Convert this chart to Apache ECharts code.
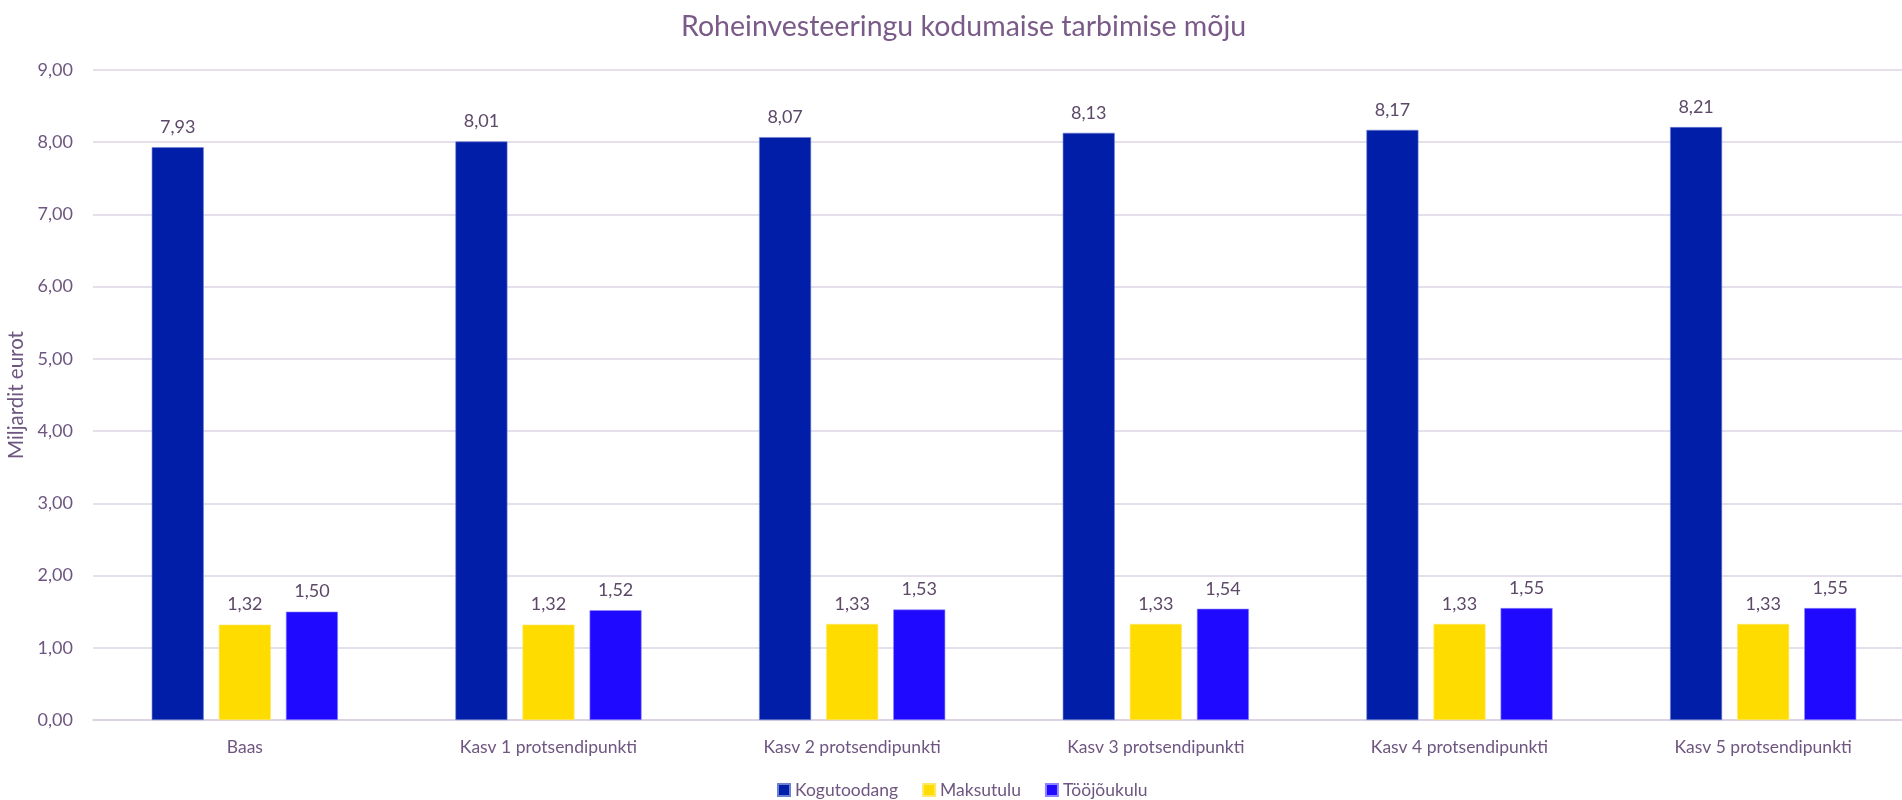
<!DOCTYPE html>
<html>
<head>
<meta charset="utf-8">
<script src="https://cdn.jsdelivr.net/npm/echarts@6/dist/echarts.min.js"></script>
<style>
  html, body { margin: 0; padding: 0; background: #fff; }
  #chart { width: 1902px; height: 800px; }
</style>
</head>
<body>
<div id="chart"></div>
<script>
var categories = ["Baas", "Kasv 1 protsendipunkti", "Kasv 2 protsendipunkti", "Kasv 3 protsendipunkti", "Kasv 4 protsendipunkti", "Kasv 5 protsendipunkti"];
var kogutoodang = [7.93, 8.01, 8.07, 8.13, 8.17, 8.21];
var maksutulu = [1.32, 1.32, 1.33, 1.33, 1.33, 1.33];
var toojoukulu = [1.50, 1.52, 1.53, 1.54, 1.55, 1.55];

var textColor = "#6e5680";
var font = "Lato";

function fmt(v) {
  return Number(v).toFixed(2).replace(".", ",");
}

var barLabel = {
  show: true,
  position: "top",
  distance: 11,
  color: "#5c4868",
  fontFamily: font,
  fontSize: 18,
  formatter: function (p) { return fmt(p.value); }
};

var myChart = echarts.init(document.getElementById("chart"));
myChart.setOption({
  animation: false,
  title: {
    text: "Roheinvesteeringu kodumaise tarbimise mõju",
    left: 676,
    top: 7,
    textStyle: { color: "#7a5a88", fontFamily: font, fontSize: 28.5, fontWeight: "normal" }
  },
  legend: {
    bottom: -4,
    left: 772,
    itemWidth: 12,
    itemHeight: 12,
    itemGap: 24,
    icon: "rect",
    textStyle: { color: textColor, fontFamily: font, fontSize: 17.5 },
    data: ["Kogutoodang", "Maksutulu", "Tööjõukulu"]
  },
  // plot area runs a little past the right edge, as in the original
  grid: { left: 93, width: 1822, top: 70, bottom: 80, containLabel: false, outerBoundsMode: "none" },
  xAxis: {
    type: "category",
    data: categories,
    axisTick: { show: false },
    axisLine: { lineStyle: { color: "#d8cfe0", width: 1.5 } },
    axisLabel: { color: textColor, fontFamily: font, fontSize: 17.5, margin: 18 }
  },
  yAxis: {
    type: "value",
    min: 0,
    max: 9,
    interval: 1,
    name: "Miljardit eurot",
    nameLocation: "middle",
    nameGap: 62,
    nameTextStyle: { color: textColor, fontFamily: font, fontSize: 20.5 },
    axisLine: { show: false },
    axisTick: { show: false },
    splitLine: { lineStyle: { color: "#ddd4e4", width: 1.5 } },
    axisLabel: {
      color: textColor, fontFamily: font, fontSize: 18, margin: 20,
      formatter: function (v) { return fmt(v); }
    }
  },
  series: [
    {
      name: "Kogutoodang", type: "bar", data: kogutoodang,
      barWidth: 52, barGap: "29%",
      itemStyle: { color: "#001ea8", borderColor: "#6e80d0", borderWidth: 0.6 },
      label: barLabel
    },
    {
      name: "Maksutulu", type: "bar", data: maksutulu,
      barWidth: 52, barGap: "29%",
      itemStyle: { color: "#ffdc00", borderColor: "#ffe866", borderWidth: 0.6 },
      label: barLabel
    },
    {
      name: "Tööjõukulu", type: "bar", data: toojoukulu,
      barWidth: 52, barGap: "29%",
      itemStyle: { color: "#1f0aff", borderColor: "#8f86ff", borderWidth: 0.6 },
      label: barLabel
    }
  ]
});
window.onresize = function () { myChart.resize(); };
</script>
</body>
</html>
